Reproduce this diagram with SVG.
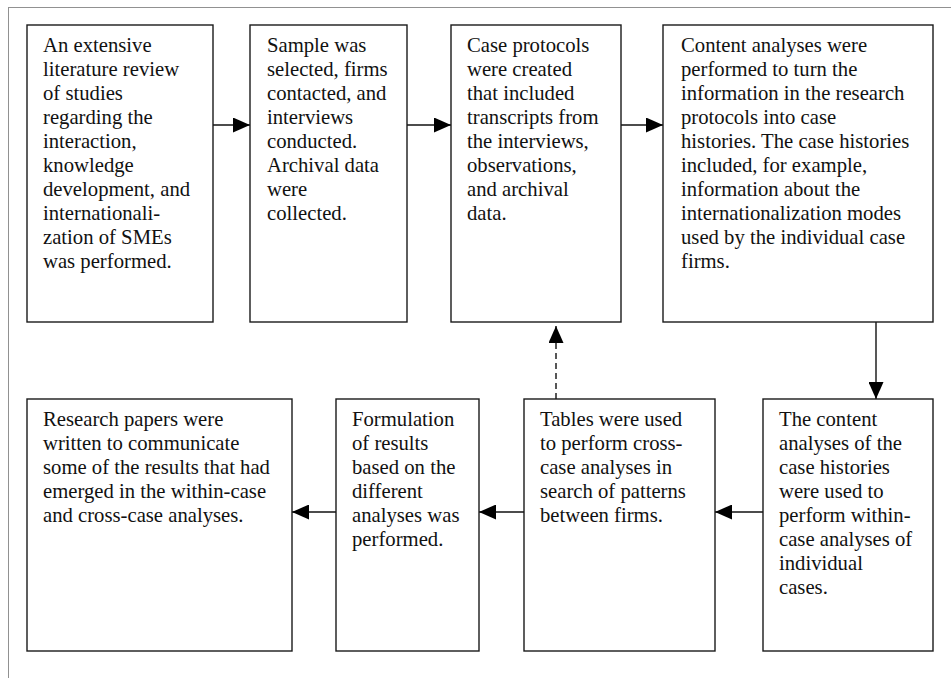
<svg xmlns="http://www.w3.org/2000/svg" width="951" height="678" viewBox="0 0 951 678">
  <defs>
    <style>
      .box { fill: #ffffff; stroke: #1a1a1a; stroke-width: 1.4; }
      .txt { font-family: "Liberation Serif", "Times New Roman", serif; font-size: 20.7px; fill: #111111; }
      .conn { stroke: #111111; stroke-width: 1.4; fill: none; }
      .dash { stroke-dasharray: 6 4; }
      .frame { fill: none; stroke: #222222; stroke-width: 1; stroke-dasharray: 1 1; }
    </style>
    <marker id="head" markerUnits="userSpaceOnUse" markerWidth="17" markerHeight="15" refX="17" refY="7.5" orient="auto">
      <path d="M0,0 L17,7.5 L0,15 z" fill="#000000"/>
    </marker>
  </defs>

  <rect width="951" height="678" fill="#ffffff"/>
  <!-- dotted outer frame, running off the right and bottom edges -->
  <rect class="frame" x="8.5" y="7.5" width="960" height="700"/>

  <!-- connectors -->
  <g id="connectors">
    <line class="conn" x1="213" y1="125" x2="250" y2="125" marker-end="url(#head)"/>
    <line class="conn" x1="407" y1="125" x2="451" y2="125" marker-end="url(#head)"/>
    <line class="conn" x1="621" y1="125" x2="663" y2="125" marker-end="url(#head)"/>
    <line class="conn" x1="876" y1="322" x2="876" y2="399" marker-end="url(#head)"/>
    <line class="conn" x1="763" y1="512" x2="715" y2="512" marker-end="url(#head)"/>
    <line class="conn" x1="524" y1="512" x2="479" y2="512" marker-end="url(#head)"/>
    <line class="conn" x1="336" y1="512" x2="292" y2="512" marker-end="url(#head)"/>
    <line class="conn dash" x1="556" y1="399" x2="556" y2="326" marker-end="url(#head)"/>
  </g>

  <g id="node-literature">
    <rect class="box" x="27" y="25" width="186" height="297"/>
    <text class="txt" x="43" y="52">
      <tspan x="43" dy="0">An extensive</tspan>
      <tspan x="43" dy="24">literature review</tspan>
      <tspan x="43" dy="24">of studies</tspan>
      <tspan x="43" dy="24">regarding the</tspan>
      <tspan x="43" dy="24">interaction,</tspan>
      <tspan x="43" dy="24">knowledge</tspan>
      <tspan x="43" dy="24">development, and</tspan>
      <tspan x="43" dy="24">internationali-</tspan>
      <tspan x="43" dy="24">zation of SMEs</tspan>
      <tspan x="43" dy="24">was performed.</tspan>
    </text>
  </g>

  <g id="node-sample">
    <rect class="box" x="250" y="25" width="157" height="297"/>
    <text class="txt" x="267" y="52">
      <tspan x="267" dy="0">Sample was</tspan>
      <tspan x="267" dy="24">selected, firms</tspan>
      <tspan x="267" dy="24">contacted, and</tspan>
      <tspan x="267" dy="24">interviews</tspan>
      <tspan x="267" dy="24">conducted.</tspan>
      <tspan x="267" dy="24">Archival data</tspan>
      <tspan x="267" dy="24">were</tspan>
      <tspan x="267" dy="24">collected.</tspan>
    </text>
  </g>

  <g id="node-protocols">
    <rect class="box" x="451" y="25" width="170" height="297"/>
    <text class="txt" x="467" y="52">
      <tspan x="467" dy="0">Case protocols</tspan>
      <tspan x="467" dy="24">were created</tspan>
      <tspan x="467" dy="24">that included</tspan>
      <tspan x="467" dy="24">transcripts from</tspan>
      <tspan x="467" dy="24">the interviews,</tspan>
      <tspan x="467" dy="24">observations,</tspan>
      <tspan x="467" dy="24">and archival</tspan>
      <tspan x="467" dy="24">data.</tspan>
    </text>
  </g>

  <g id="node-content">
    <rect class="box" x="663" y="25" width="270" height="297"/>
    <text class="txt" x="681" y="52">
      <tspan x="681" dy="0">Content analyses were</tspan>
      <tspan x="681" dy="24">performed to turn the</tspan>
      <tspan x="681" dy="24">information in the research</tspan>
      <tspan x="681" dy="24">protocols into case</tspan>
      <tspan x="681" dy="24">histories. The case histories</tspan>
      <tspan x="681" dy="24">included, for example,</tspan>
      <tspan x="681" dy="24">information about the</tspan>
      <tspan x="681" dy="24">internationalization modes</tspan>
      <tspan x="681" dy="24">used by the individual case</tspan>
      <tspan x="681" dy="24">firms.</tspan>
    </text>
  </g>

  <g id="node-within">
    <rect class="box" x="763" y="399" width="170" height="252"/>
    <text class="txt" x="779" y="426">
      <tspan x="779" dy="0">The content</tspan>
      <tspan x="779" dy="24">analyses of the</tspan>
      <tspan x="779" dy="24">case histories</tspan>
      <tspan x="779" dy="24">were used to</tspan>
      <tspan x="779" dy="24">perform within-</tspan>
      <tspan x="779" dy="24">case analyses of</tspan>
      <tspan x="779" dy="24">individual</tspan>
      <tspan x="779" dy="24">cases.</tspan>
    </text>
  </g>

  <g id="node-tables">
    <rect class="box" x="524" y="399" width="191" height="252"/>
    <text class="txt" x="540" y="426">
      <tspan x="540" dy="0">Tables were used</tspan>
      <tspan x="540" dy="24">to perform cross-</tspan>
      <tspan x="540" dy="24">case analyses in</tspan>
      <tspan x="540" dy="24">search of patterns</tspan>
      <tspan x="540" dy="24">between firms.</tspan>
    </text>
  </g>

  <g id="node-formulation">
    <rect class="box" x="336" y="399" width="143" height="252"/>
    <text class="txt" x="352" y="426">
      <tspan x="352" dy="0">Formulation</tspan>
      <tspan x="352" dy="24">of results</tspan>
      <tspan x="352" dy="24">based on the</tspan>
      <tspan x="352" dy="24">different</tspan>
      <tspan x="352" dy="24">analyses was</tspan>
      <tspan x="352" dy="24">performed.</tspan>
    </text>
  </g>

  <g id="node-papers">
    <rect class="box" x="27" y="399" width="265" height="252"/>
    <text class="txt" x="43" y="426">
      <tspan x="43" dy="0">Research papers were</tspan>
      <tspan x="43" dy="24">written to communicate</tspan>
      <tspan x="43" dy="24">some of the results that had</tspan>
      <tspan x="43" dy="24">emerged in the within-case</tspan>
      <tspan x="43" dy="24">and cross-case analyses.</tspan>
    </text>
  </g>
</svg>
